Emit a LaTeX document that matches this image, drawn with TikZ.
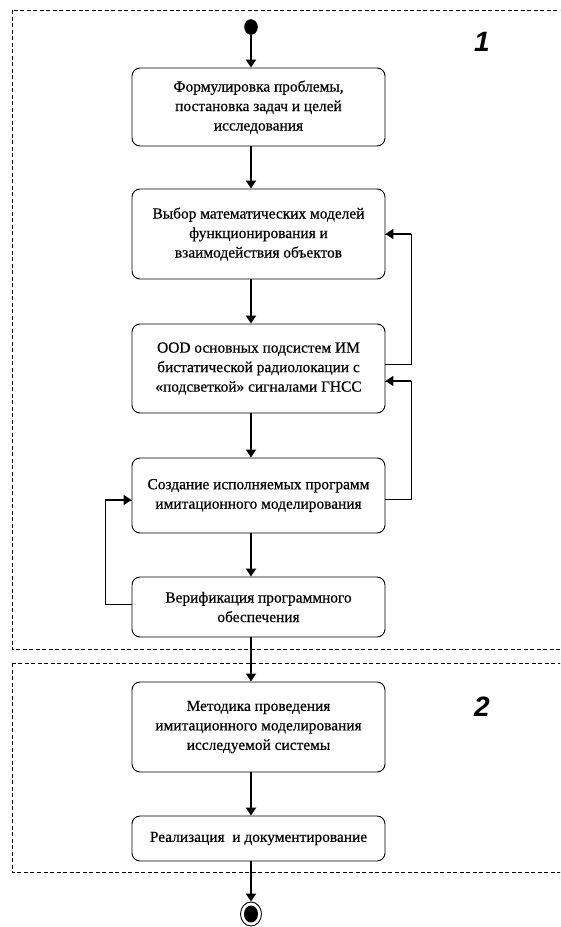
\documentclass[tikz,border=0pt]{standalone}
\usepackage{fontspec}
\setmainfont{Liberation Serif}
\newfontfamily\boxfont[FakeBold=0.5]{Liberation Serif}
\newfontfamily\numfont{Liberation Sans}
\usetikzlibrary{arrows.meta,calc,shapes.geometric}
\begin{document}
\begin{tikzpicture}[x=1pt,y=-1pt,
  stepbox/.style={draw,line width=0.9pt,rounded corners=8pt,minimum width=253pt,
    align=center,font=\boxfont\fontsize{15.4}{19.5}\selectfont,inner sep=2pt},
  main/.style={line width=1.8pt,-{Triangle[width=10pt,length=8pt]}},
  fb/.style={line width=0.9pt},
  zone/.style={draw,line width=0.6pt,dash pattern=on 4pt off 2.5pt},
  zonelabel/.style={font=\numfont\bfseries\itshape\fontsize{28}{28}\selectfont}]
\useasboundingbox (0,0) rectangle (560,927);
\clip (0,0) rectangle (560,927);

% dashed zones
\draw[zone] (12,10) rectangle (575,649);
\draw[zone] (12,663) rectangle (575,872);
\node[zonelabel] (n1) at (482,42) {1};
\node[zonelabel] (n2) at (482,707) {2};

% initial state
\node[draw,fill=black,ellipse,minimum width=13pt,minimum height=15pt,inner sep=0pt] (start) at (251,27) {};

% activity boxes
\node[stepbox,minimum height=78pt] (A) at (258.5,107) {Формулировка проблемы,\\постановка задач и целей\\исследования};
\node[stepbox,minimum height=90pt] (B) at (258.5,234) {Выбор математических моделей\\функционирования и\\взаимодействия объектов};
\node[stepbox,minimum height=89pt] (C) at (258.5,368.5) {OOD основных подсистем ИМ\\бистатической радиолокации с\\«подсветкой» сигналами ГНСС};
\node[stepbox,minimum height=75pt] (D) at (258.5,495.5) {Создание исполняемых программ\\имитационного моделирования};
\node[stepbox,minimum height=60pt] (E) at (258.5,607) {Верификация программного\\обеспечения};
\node[stepbox,minimum height=90pt] (F) at (258.5,727) {Методика проведения\\имитационного моделирования\\исследуемой системы};
\node[stepbox,minimum height=45pt] (G) at (258.5,838.5) {Реализация\ \ и документирование};

% final state
\node[draw,line width=0.9pt,ellipse,minimum width=21pt,minimum height=24pt,inner sep=0pt] (stop) at (251,914) {};
\node[fill=black,ellipse,minimum width=14pt,minimum height=17pt,inner sep=0pt] at (stop.center) {};

% main flow
\draw[main] (start) -- (start |- A.north);
\draw[main] (start |- A.south) -- (start |- B.north);
\draw[main] (start |- B.south) -- (start |- C.north);
\draw[main] (start |- C.south) -- (start |- D.north);
\draw[main] (start |- D.south) -- (start |- E.north);
\draw[main] (start |- E.south) -- (start |- F.north);
\draw[main] (start |- F.south) -- (start |- G.north);
\draw[main] (start |- G.south) -- (stop.north);

% feedback loops
\coordinate (rx) at (411,0);
\coordinate (lx) at (105,0);
\draw[fb] ([yshift=4pt]C.east) -| (rx |- B.east) -- (B.east);
\draw[main] (rx |- B.east) -- (B.east);
\draw[fb] ([yshift=-3.5pt]D.east) -| ([yshift=-12.5pt]rx |- C.east) -- ([yshift=-12.5pt]C.east);
\draw[main] ([yshift=-12.5pt]rx |- C.east) -- ([yshift=-12.5pt]C.east);
\draw[fb] ([yshift=3pt]E.west) -| ([yshift=-4.5pt]lx |- D.west) -- ([yshift=-4.5pt]D.west);
\draw[main] ([yshift=-4.5pt]lx |- D.west) -- ([yshift=-4.5pt]D.west);
\end{tikzpicture}
\end{document}
